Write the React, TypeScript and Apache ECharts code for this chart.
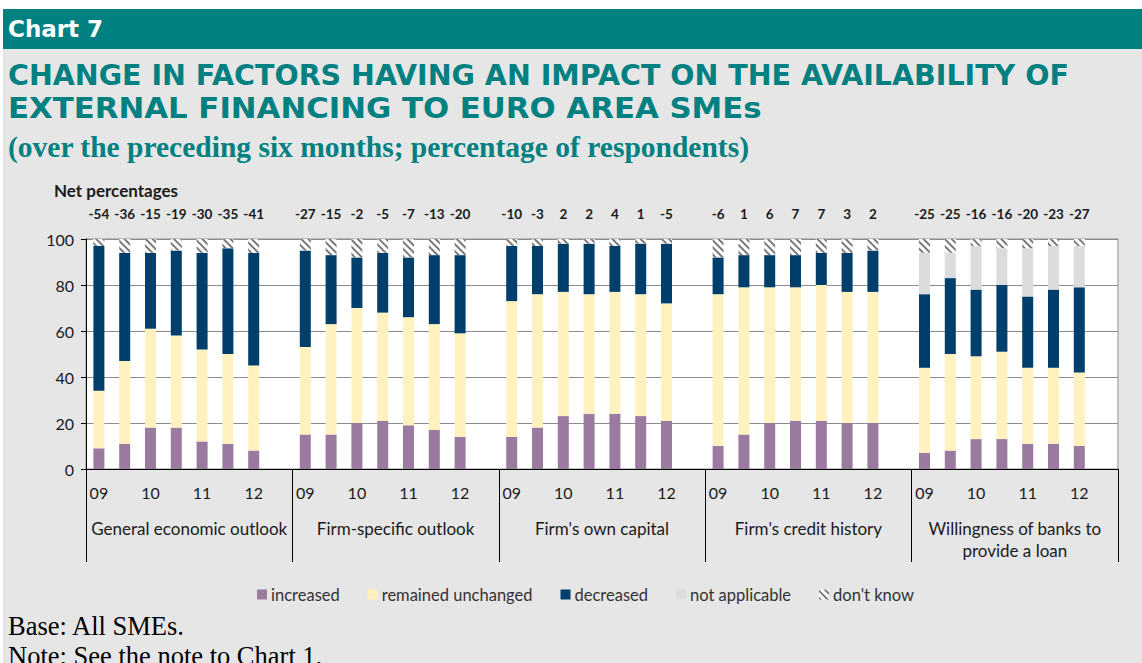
import React, { useEffect, useRef } from "react";
import * as echarts from "echarts";

const groupNames = [
  "General economic outlook",
  "Firm-specific outlook",
  "Firm's own capital",
  "Firm's credit history",
  "Willingness of banks to\nprovide a loan",
];
const periodTicks = ["09", "", "10", "", "11", "", "12", ""];

const netPct = [
  [-54, -36, -15, -19, -30, -35, -41],
  [-27, -15, -2, -5, -7, -13, -20],
  [-10, -3, 2, 2, 4, 1, -5],
  [-6, 1, 6, 7, 7, 3, 2],
  [-25, -25, -16, -16, -20, -23, -27],
];
const increased = [
  [9, 11, 18, 18, 12, 11, 8],
  [15, 15, 20, 21, 19, 17, 14],
  [14, 18, 23, 24, 24, 23, 21],
  [10, 15, 20, 21, 21, 20, 20],
  [7, 8, 13, 13, 11, 11, 10],
];
const unchanged = [
  [25, 36, 43, 40, 40, 39, 37],
  [38, 48, 50, 47, 47, 46, 45],
  [59, 58, 54, 52, 53, 53, 51],
  [66, 64, 59, 58, 59, 57, 57],
  [37, 42, 36, 38, 33, 33, 32],
];
const decreased = [
  [63, 47, 33, 37, 42, 46, 49],
  [42, 30, 22, 26, 26, 30, 34],
  [24, 21, 21, 22, 20, 22, 26],
  [16, 14, 14, 14, 14, 17, 18],
  [32, 33, 29, 29, 31, 34, 37],
];
const notApplicable = [
  [0, 0, 0, 0, 0, 0, 0],
  [0, 0, 0, 0, 0, 0, 0],
  [0, 0, 0, 0, 0, 0, 0],
  [0, 0, 0, 0, 0, 0, 0],
  [18, 11, 19, 16, 21, 19, 18],
];
const dontKnow = [
  [3, 6, 6, 5, 6, 4, 6],
  [5, 7, 8, 6, 8, 7, 7],
  [3, 3, 2, 2, 3, 2, 2],
  [8, 7, 7, 7, 6, 6, 5],
  [6, 6, 3, 4, 4, 3, 3],
];

const seriesNames = ["increased", "remained unchanged", "decreased", "not applicable", "don't know"];
const seriesColors = ["#9B7AA0", "#FFF2BF", "#003F6B", "#DCDCDC", "#FFFFFF"];

// 8 slots per group: 7 survey rounds + 1 empty gap slot
function withGaps(groups: (number | string)[][]): (number | string)[] {
  const out: (number | string)[] = [];
  groups.forEach((g) => {
    g.forEach((v) => out.push(v));
    out.push("-");
  });
  return out;
}

const slotIds: string[] = [];
groupNames.forEach((_, gi) => periodTicks.forEach((__, pi) => slotIds.push(`g${gi}-${pi}`)));
const netLabelSlots = withGaps(netPct.map((g) => g.map((v) => String(v)))).map((v) => (v === "-" ? "" : v));

const SANS = "Lato, 'Noto Sans', sans-serif";
const TITLE = "'DejaVu Sans', 'Noto Sans', sans-serif";
const SERIF = "'Liberation Serif', 'DejaVu Serif', serif";
const TEAL = "#008080";

export default function App() {
  const ref = useRef<HTMLDivElement>(null);

  useEffect(() => {
    if (!ref.current) return;
    const chart = echarts.init(ref.current, null, { renderer: "svg" });
    const dataSets = [increased, unchanged, decreased, notApplicable, dontKnow];

    const series: any[] = dataSets.map((ds, i) => {
      const s: any = {
        name: seriesNames[i],
        type: "bar",
        stack: "total",
        xAxisIndex: 0,
        yAxisIndex: 0,
        barWidth: 11,
        data: withGaps(ds).map((v) => (v === 0 ? "-" : v)),
        itemStyle: { color: seriesColors[i] },
        emphasis: { disabled: true },
      };
      if (i === 4) {
        s.itemStyle = {
          color: "#FFFFFF",
          decal: {
            symbol: "rect",
            symbolSize: 1,
            color: "#7A7A7A",
            dashArrayX: [1, 0],
            dashArrayY: [2, 3],
            rotation: Math.PI / 4,
          },
        };
      }
      return s;
    });

    chart.setOption({
      animation: false,
      backgroundColor: "#FFFFFF",
      textStyle: { fontFamily: SANS },
      graphic: [
        { type: "rect", z: -10, shape: { x: 3, y: 9, width: 1139, height: 654 }, style: { fill: "#E6E6E6" } },
        { type: "rect", z: -9, shape: { x: 3, y: 9, width: 1139, height: 40 }, style: { fill: TEAL } },
        {
          type: "text",
          x: 8,
          y: 29,
          style: { text: "Chart 7", fill: "#FFFFFF", font: `bold 23px ${TITLE}`, verticalAlign: "middle" },
        },
        {
          type: "text",
          x: 8,
          y: 75,
          style: {
            text: "CHANGE IN FACTORS HAVING AN IMPACT ON THE AVAILABILITY OF",
            fill: TEAL,
            font: `bold 28.5px ${TITLE}`,
            verticalAlign: "middle",
          },
        },
        {
          type: "text",
          x: 8,
          y: 108,
          scaleX: 1.08,
          style: {
            text: "EXTERNAL FINANCING TO EURO AREA SMEs",
            fill: TEAL,
            font: `bold 28.5px ${TITLE}`,
            verticalAlign: "middle",
          },
        },
        {
          type: "text",
          x: 8,
          y: 147,
          style: {
            text: "(over the preceding six months; percentage of respondents)",
            fill: TEAL,
            font: `bold 29.5px ${SERIF}`,
            verticalAlign: "middle",
          },
        },
        {
          type: "text",
          x: 54,
          y: 190,
          style: { text: "Net percentages", fill: "#1A1A1A", font: `bold 17px ${SANS}`, verticalAlign: "middle" },
        },
        {
          type: "text",
          x: 8,
          y: 626,
          style: { text: "Base: All SMEs.", fill: "#000000", font: `26.5px ${SERIF}`, verticalAlign: "middle" },
        },
        {
          type: "text",
          x: 8,
          y: 656,
          style: {
            text: "Note: See the note to Chart 1.",
            fill: "#000000",
            font: `26.5px ${SERIF}`,
            verticalAlign: "middle",
          },
        },
      ],
      legend: {
        left: 252,
        top: 581,
        itemWidth: 10,
        itemHeight: 10,
        itemGap: 28,
        icon: "rect",
        selectedMode: false,
        textStyle: { fontFamily: SANS, fontSize: 16.5, color: "#333333", padding: [0, 0, 0, -1] },
        data: seriesNames,
      },
      grid: {
        left: 86,
        right: 24,
        top: 239,
        bottom: 194,
        show: true,
        backgroundColor: "#FFFFFF",
        borderColor: "#8C8C8C",
        borderWidth: 1,
      },
      xAxis: [
        {
          type: "category",
          gridIndex: 0,
          position: "bottom",
          data: slotIds,
          axisLine: { show: true, lineStyle: { color: "#000000", width: 1 } },
          axisTick: { show: false },
          axisLabel: {
            interval: 0,
            margin: 15,
            fontSize: 16,
            color: "#1A1A1A",
            formatter: (_: string, idx: number) => periodTicks[idx % periodTicks.length],
          },
        },
        {
          type: "category",
          gridIndex: 0,
          position: "bottom",
          data: groupNames,
          axisLine: { show: true, lineStyle: { color: "#000000", width: 1 } },
          axisTick: { show: true, interval: 0, length: 93, lineStyle: { color: "#000000", width: 1 } },
          axisLabel: { interval: 0, margin: 48, fontSize: 17, lineHeight: 22, color: "#1A1A1A" },
        },
        {
          type: "category",
          gridIndex: 0,
          position: "top",
          data: slotIds,
          axisLine: { show: false },
          axisTick: { show: false },
          axisLabel: {
            interval: 0,
            margin: 18,
            fontSize: 13.5,
            fontWeight: "bold",
            color: "#1A1A1A",
            formatter: (_: string, idx: number) => netLabelSlots[idx],
          },
        },
      ],
      yAxis: {
        type: "value",
        min: 0,
        max: 100,
        interval: 20,
        axisLine: { show: true, lineStyle: { color: "#000000", width: 1 } },
        axisTick: { show: true, length: 5, lineStyle: { color: "#000000" } },
        axisLabel: { fontSize: 16, color: "#1A1A1A", margin: 12 },
        splitLine: { show: true, lineStyle: { color: "#8C8C8C", width: 1 } },
      },
      series,
    });

    return () => chart.dispose();
  }, []);

  return (
    <div
      ref={ref}
      style={{ position: "fixed", left: 0, top: 0, width: 1142, height: 663 }}
    />
  );
}
